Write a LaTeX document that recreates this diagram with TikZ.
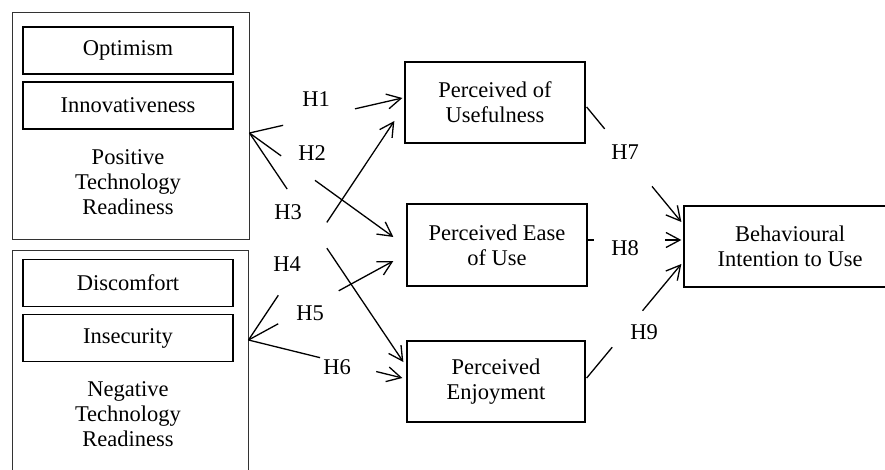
\documentclass[tikz,border=0pt]{standalone}
\usepackage{fontspec}
\setmainfont{Liberation Serif}
\usetikzlibrary{arrows.meta,calc}
\begin{document}
\begin{tikzpicture}[x=1pt,y=-1pt,
  every node/.style={font=\fontsize{22.5}{25}\selectfont, inner sep=0pt},
  outerbox/.style={draw=black!80, line width=1pt},
  innerbox/.style={draw, line width=1.3pt, minimum width=210pt, minimum height=47pt},
  constbox/.style={draw, line width=1.3pt, minimum width=180pt, minimum height=81pt, align=center},
  link/.style={line width=1.3pt},
  arr/.style={link, -{Straight Barb[length=14pt,width=15pt,line width=1.3pt]}},
  txt/.style={align=center}]
\useasboundingbox (0,0) rectangle (885,470);
% left outer boxes
\node[outerbox, minimum width=237pt, minimum height=226pt] (ptr) at (130.5,126) {};
\node[outerbox, minimum width=236pt, minimum height=250pt] (ntr) at (130,375) {};
\node[innerbox] (opt) at (128,50.5) {Optimism};
\node[innerbox] (inn) at (128,105.5) {Innovativeness};
\node[txt] (ptrtxt) at (128,182) {Positive\\Technology\\Readiness};
\node[innerbox] (dis) at (128,283) {Discomfort};
\node[innerbox] (ins) at (128,338) {Insecurity};
\node[txt] (ntrtxt) at (128,414) {Negative\\Technology\\Readiness};
% constructs
\node[constbox] (pu) at (495,102.5) {Perceived of\\Usefulness};
\node[constbox, minimum height=82pt] (peou) at (497,245) {Perceived Ease\\of Use};
\node[constbox, minimum width=178pt] (pe) at (496,381.5) {Perceived\\Enjoyment};
\node[constbox, minimum width=212pt] (bi) at (790,246.5) {Behavioural\\Intention to Use};
% labels
\node (h1) at (316,99) {H1};
\node (h2) at (312,153) {H2};
\node (h3) at (288,212) {H3};
\node (h4) at (287,264) {H4};
\node (h5) at (310,313) {H5};
\node (h6) at (337,367) {H6};
\node (h7) at (625,152) {H7};
\node (h8) at (625,248) {H8};
\node (h9) at (644,332) {H9};
% connector end points
\coordinate (pf) at ($(ptr.east)+(0,7)$);
\coordinate (nf) at ($(ntr.east)+(0,-35)$);
\coordinate (e1) at ($(pu.west)+(-2,-4.5)$);
\coordinate (e4) at ($(pu.west)+(-10,18.5)$);
\coordinate (e2) at ($(peou.west)+(-13,-8)$);
\coordinate (e5) at ($(peou.west)+(-13,16)$);
\coordinate (e3) at ($(pe.west)+(-3,-19.5)$);
\coordinate (e6) at ($(pe.west)+(-4,-3.5)$);
\coordinate (s7) at ($(pu.east)+(1,4.5)$);
\coordinate (s8) at ($(peou.east)+(0,-5)$);
\coordinate (s9) at ($(pe.east)+(1,-3.5)$);
\coordinate (e7) at ($(bi.west)+(-2,-24.5)$);
\coordinate (e8) at ($(bi.west)+(-2,-6.5)$);
\coordinate (e9) at ($(bi.west)+(-2,17.5)$);
% H1
\draw[link] (pf) -- ($(pf)!0.22!(e1)$);
\draw[arr] ($(pf)!0.69!(e1)$) -- (e1);
% H2
\draw[link] (pf) -- ($(pf)!0.22!(e2)$);
\draw[arr] ($(pf)!0.455!(e2)$) -- (e2);
% H3
\draw[link] (pf) -- ($(pf)!0.245!(e3)$);
\draw[arr] ($(pf)!0.503!(e3)$) -- (e3);
% H4
\draw[link] (nf) -- ($(nf)!0.204!(e4)$);
\draw[arr] ($(nf)!0.537!(e4)$) -- (e4);
% H5
\draw[link] (nf) -- ($(nf)!0.205!(e5)$);
\draw[arr] ($(nf)!0.623!(e5)$) -- (e5);
% H6
\draw[link] (nf) -- ($(nf)!0.465!(e6)$);
\draw[arr] ($(nf)!0.83!(e6)$) -- (e6);
% H7
\draw[link] (s7) -- ($(s7)!0.19!(e7)$);
\draw[arr] ($(s7)!0.69!(e7)$) -- (e7);
% H8
\draw[link] (s8) -- ($(s8)!0.063!(e8)$);
\draw[arr] ($(s8)!0.83!(e8)$) -- (e8);
% H9
\draw[link] (s9) -- ($(s9)!0.27!(e9)$);
\draw[arr] ($(s9)!0.59!(e9)$) -- (e9);
\end{tikzpicture}
\end{document}
